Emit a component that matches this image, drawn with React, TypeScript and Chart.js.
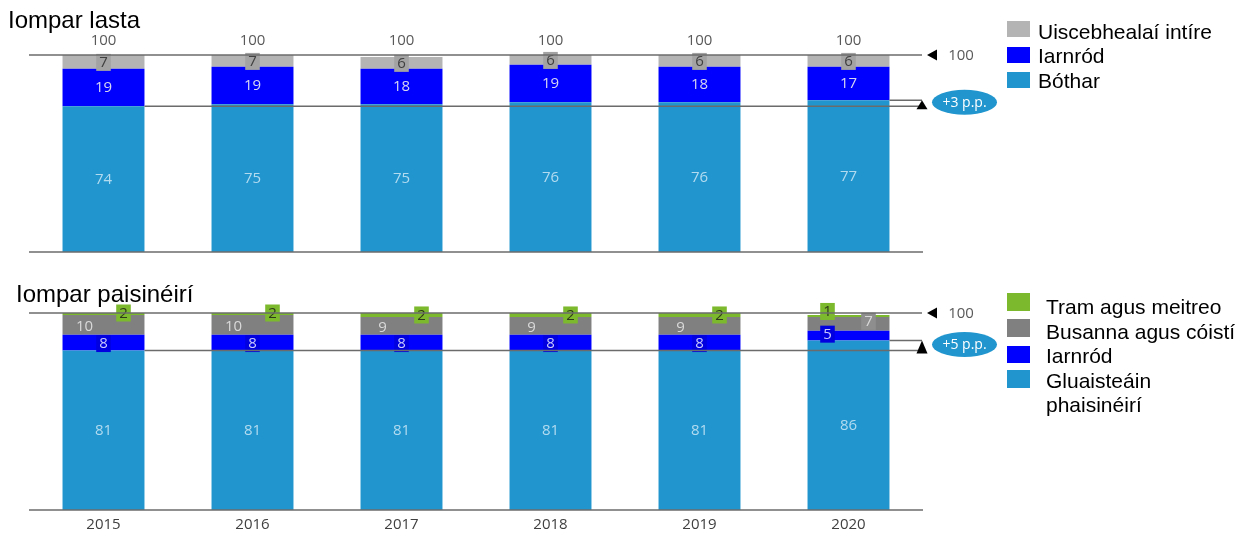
import React, { useEffect, useRef } from "react";
import { Chart, registerables } from "chart.js";
Chart.register(...registerables);

// ---------- data ----------
const years = ["2015", "2016", "2017", "2018", "2019", "2020"];

const freightRoad = [74, 75, 75, 76, 76, 77];
const freightRail = [19, 19, 18, 19, 18, 17];
const freightWater = [7, 7, 6, 6, 6, 6];
const freightTotal = [100, 100, 100, 100, 100, 100];

const paxCars = [81, 81, 81, 81, 81, 86];
const paxRail = [8, 8, 8, 8, 8, 5];
const paxBus = [10, 10, 9, 9, 9, 7];
const paxTram = [2, 2, 2, 2, 2, 1];

const freightChange = "+3 p.p.";
const paxChange = "+5 p.p.";
const referenceLabel = "100";

// ---------- styles ----------
const C_ROAD = "#2196ce";
const C_RAIL = "#0000ff";
const C_WATER = "#b4b4b4";
const C_BUS = "#808080";
const C_TRAM = "#7cb92c";
const LINE = "#6b6b6b";
const NUM_FONT = '15px "Open Sans"';

type LabelStyle = {
  color: (i: number) => string;
  box?: (i: number) => string | undefined;
  dx?: (i: number) => number;
  dy?: (i: number) => number;
  clip?: boolean;
};

const last = years.length - 1;

const freightLabelStyles: LabelStyle[] = [
  { color: () => "#b3dbf0" },
  { color: () => "#d6d6f2" },
  { color: () => "#404040", box: () => "#a3a3a3", dy: () => 0.5, clip: true },
];

const paxLabelStyles: LabelStyle[] = [
  { color: () => "#b3dbf0" },
  {
    color: () => "#c9c9ff",
    box: () => "#0000e0",
    dx: (i) => (i === last ? -21 : 0),
    dy: (i) => (i === last ? -1.5 : 1),
  },
  {
    color: () => "#d9d9d9",
    box: (i) => (i === last ? "#8e8e8e" : undefined),
    dx: (i) => (i === last ? 20 : -19),
    dy: (i) => (i === last ? -2.5 : 1.5),
    clip: true,
  },
  {
    color: () => "#2e3a1a",
    box: () => C_TRAM,
    dx: (i) => (i === last ? -21 : 20),
    dy: (i) => (i === last ? -4.5 : 0),
  },
];

function labelPlugin(styles: LabelStyle[], totals: number[] | null) {
  return {
    id: "barLabels",
    afterDatasetsDraw(chart: any) {
      const ctx = chart.ctx;
      const area = chart.chartArea;
      ctx.save();
      ctx.font = NUM_FONT;
      ctx.textAlign = "center";
      ctx.textBaseline = "middle";
      chart.data.datasets.forEach((ds: any, di: number) => {
        const meta = chart.getDatasetMeta(di);
        const st = styles[di];
        meta.data.forEach((el: any, i: number) => {
          const txt = String(ds.data[i]);
          const x = el.x + (st.dx ? st.dx(i) : 0);
          const top = st.clip ? Math.max(el.y, area.top) : el.y;
          const y = (top + el.base) / 2 + (st.dy ? st.dy(i) : 0);
          const box = st.box ? st.box(i) : undefined;
          if (box) {
            const w = ctx.measureText(txt).width + 6;
            ctx.fillStyle = box;
            ctx.fillRect(x - w / 2, y - 8.5, w, 17);
          }
          ctx.fillStyle = st.color(i);
          ctx.fillText(txt, x, y + 0.5);
        });
      });
      if (totals) {
        const y = chart.scales.y;
        const meta0 = chart.getDatasetMeta(0);
        ctx.fillStyle = "#595959";
        meta0.data.forEach((el: any, i: number) => {
          ctx.fillText(String(totals[i]), el.x, y.getPixelForValue(totals[i]) - 14);
        });
      }
      ctx.restore();
    },
  };
}

function annotPlugin(bubble: string, showYears: boolean) {
  return {
    id: "annot",
    afterDatasetsDraw(chart: any) {
      const { ctx, chartArea: a } = chart;
      const y = chart.scales.y;
      const x = chart.scales.x;
      const meta0 = chart.getDatasetMeta(0);
      const d0 = chart.data.datasets[0].data as number[];
      const first: any = meta0.data[0];
      const lastEl: any = meta0.data[meta0.data.length - 1];
      const yTop = y.getPixelForValue(100);
      const yA = y.getPixelForValue(d0[0]);
      const yB = y.getPixelForValue(d0[d0.length - 1]);
      const xEnd = a.right - 1;
      ctx.save();
      const line = (x1: number, y1: number, x2: number, y2: number) => {
        ctx.beginPath();
        ctx.moveTo(x1, y1);
        ctx.lineTo(x2, y2);
        ctx.stroke();
      };
      ctx.strokeStyle = LINE;
      ctx.lineWidth = 1.5;
      line(a.left, a.bottom, a.right, a.bottom);
      line(a.left, yTop, xEnd, yTop);
      line(first.x + first.width / 2, yA, xEnd, yA);
      line(lastEl.x + lastEl.width / 2, yB, xEnd, yB);

      // left-pointing triangle
      ctx.fillStyle = "#000";
      ctx.beginPath();
      ctx.moveTo(xEnd + 5, yTop);
      ctx.lineTo(xEnd + 15, yTop - 5.5);
      ctx.lineTo(xEnd + 15, yTop + 5.5);
      ctx.closePath();
      ctx.fill();
      ctx.font = NUM_FONT;
      ctx.textAlign = "center";
      ctx.textBaseline = "middle";
      ctx.fillStyle = "#595959";
      ctx.fillText(referenceLabel, xEnd + 39, yTop + 0.5);

      // up triangle
      ctx.fillStyle = "#000";
      ctx.beginPath();
      ctx.moveTo(xEnd, yB);
      ctx.lineTo(xEnd - 5.5, yA + 3);
      ctx.lineTo(xEnd + 5.5, yA + 3);
      ctx.closePath();
      ctx.fill();

      // bubble
      const cy = (yA + yB) / 2 - 1;
      ctx.fillStyle = C_ROAD;
      ctx.beginPath();
      ctx.ellipse(xEnd + 42.5, cy, 32.5, 12.5, 0, 0, Math.PI * 2);
      ctx.fill();
      ctx.fillStyle = "#ffffff";
      ctx.font = '14px "Open Sans"';
      ctx.fillText(bubble, xEnd + 42.5, cy + 0.5);

      if (showYears) {
        ctx.font = NUM_FONT;
        ctx.fillStyle = "#404040";
        (chart.data.labels as string[]).forEach((lab: string, i: number) => {
          ctx.fillText(lab, x.getPixelForTick(i), a.bottom + 15);
        });
      }
      ctx.restore();
    },
  };
}

function makeConfig(
  datasets: any[],
  padTop: number,
  padBottom: number,
  styles: LabelStyle[],
  totals: number[] | null,
  bubble: string,
  showYears: boolean
): any {
  return {
    type: "bar",
    data: { labels: years, datasets },
    options: {
      animation: false,
      responsive: false,
      layout: { padding: { left: 29, right: 324, top: padTop, bottom: padBottom } },
      plugins: { legend: { display: false }, tooltip: { enabled: false } },
      datasets: { bar: { barPercentage: 0.55, categoryPercentage: 1, borderWidth: 0 } },
      scales: {
        x: { display: false, stacked: true },
        y: { display: false, stacked: true, min: 0, max: 100 },
      },
    },
    plugins: [labelPlugin(styles, totals), annotPlugin(bubble, showYears)],
  };
}

function Panel(props: { top: number; height: number; config: any }) {
  const ref = useRef<HTMLCanvasElement | null>(null);
  useEffect(() => {
    if (!ref.current) return;
    const chart = new Chart(ref.current, props.config);
    return () => chart.destroy();
  }, []);
  return (
    <canvas
      ref={ref}
      width={1247}
      height={props.height}
      style={{ position: "absolute", left: 0, top: props.top, width: 1247, height: props.height, display: "block" }}
    />
  );
}

const titleStyle: React.CSSProperties = {
  position: "absolute",
  fontFamily: '"Liberation Sans", Arial, sans-serif',
  fontSize: 24,
  lineHeight: "30px",
  color: "#000",
  whiteSpace: "nowrap",
};
const legText: React.CSSProperties = {
  position: "absolute",
  fontFamily: '"Liberation Sans", Arial, sans-serif',
  fontSize: 21,
  lineHeight: "26px",
  color: "#000",
  whiteSpace: "nowrap",
};

function Swatch(p: { top: number; h: number; color: string }) {
  return <div style={{ position: "absolute", left: 1007, top: p.top, width: 23, height: p.h, background: p.color }} />;
}

export default function App() {
  const freightConfig = makeConfig(
    [
      { label: "Bóthar", data: freightRoad, backgroundColor: C_ROAD },
      { label: "Iarnród", data: freightRail, backgroundColor: C_RAIL },
      { label: "Uiscebhealaí intíre", data: freightWater, backgroundColor: C_WATER },
    ],
    55,
    18,
    freightLabelStyles,
    freightTotal,
    freightChange,
    false
  );
  const paxConfig = makeConfig(
    [
      { label: "Gluaisteáin phaisinéirí", data: paxCars, backgroundColor: C_ROAD },
      { label: "Iarnród", data: paxRail, backgroundColor: C_RAIL },
      { label: "Busanna agus cóistí", data: paxBus, backgroundColor: C_BUS },
      { label: "Tram agus meitreo", data: paxTram, backgroundColor: C_TRAM },
    ],
    43,
    25,
    paxLabelStyles,
    null,
    paxChange,
    true
  );
  return (
    <div style={{ position: "fixed", left: 0, top: 0, width: 1247, height: 535, background: "#fff", overflow: "hidden" }}>
      <Panel top={0} height={270} config={freightConfig} />
      <Panel top={270} height={265} config={paxConfig} />

      <div style={{ ...titleStyle, left: 8, top: 4.8 }}>Iompar lasta</div>
      <div style={{ ...titleStyle, left: 16, top: 278.8 }}>Iompar paisinéirí</div>

      <Swatch top={21} h={16} color={C_WATER} />
      <Swatch top={47} h={16} color={C_RAIL} />
      <Swatch top={72} h={16} color={C_ROAD} />
      <div style={{ ...legText, left: 1038, top: 18.7 }}>Uiscebhealaí intíre</div>
      <div style={{ ...legText, left: 1038, top: 43.2 }}>Iarnród</div>
      <div style={{ ...legText, left: 1038, top: 67.7 }}>Bóthar</div>

      <Swatch top={293} h={18} color={C_TRAM} />
      <Swatch top={319} h={18} color={C_BUS} />
      <Swatch top={346} h={17} color={C_RAIL} />
      <Swatch top={370} h={18} color={C_ROAD} />
      <div style={{ ...legText, left: 1046, top: 294.2 }}>Tram agus meitreo</div>
      <div style={{ ...legText, left: 1046, top: 319.2 }}>Busanna agus cóistí</div>
      <div style={{ ...legText, left: 1046, top: 343.2 }}>Iarnród</div>
      <div style={{ ...legText, left: 1046, top: 368.2 }}>Gluaisteáin</div>
      <div style={{ ...legText, left: 1046, top: 392.2 }}>phaisinéirí</div>
    </div>
  );
}
